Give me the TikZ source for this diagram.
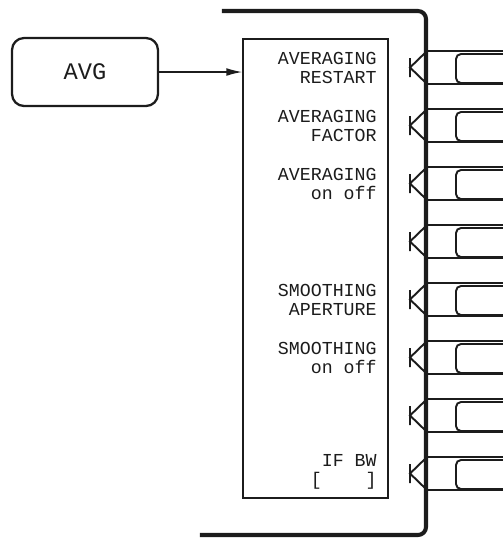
\documentclass[tikz,border=0pt]{standalone}
\usepackage{fontspec}
\setmonofont{Liberation Mono}
\usepackage{tikz}
\usetikzlibrary{arrows.meta,calc,positioning}
\definecolor{ink}{HTML}{1C1C1C}

\begin{document}
\begin{tikzpicture}[x=0.02cm,y=-0.02cm,>={Latex[length=9pt,width=4.4pt]},
  keyline/.style={line width=1.1pt,draw=ink},
  keyface/.style={line width=1.1pt,draw=ink,rounded corners=0.1cm},
  keytext/.style={anchor=east,inner sep=0pt,align=right,text=ink,font=\ttfamily\fontsize{10.4}{10.6}\selectfont}]
\useasboundingbox (0,0) rectangle (503,539);
\node[draw=ink,line width=1.3pt,rounded corners=0.24cm,minimum width=2.92cm,minimum height=1.36cm,inner sep=0pt,text=ink,font=\ttfamily\fontsize{13.5}{13.5}\selectfont] (avg) at (85,72) {AVG};
\node[draw=ink,line width=0.8pt,minimum width=2.9cm,minimum height=9.18cm,inner sep=0pt] (menu) at (315.5,268.5) {};
\draw[->,ink,line width=0.8pt] (avg.east) -- (avg.east -| menu.west);
\draw[ink,line width=2.3pt,rounded corners=0.16cm] (222,11) -- (426,11) -- (426,535) -- (200,535);
\draw[keyline] (426,51) -- (503,51) (426,84) -- (503,84) (426,52) -- (410,67.5) -- (426,83) (410,58) -- (410,77);
\draw[keyface] (503,54) -- (456,54) -- (456,83) -- (503,83);
\draw[keyline] (426,109) -- (503,109) (426,142) -- (503,142) (426,110) -- (410,125.5) -- (426,141) (410,116) -- (410,135);
\draw[keyface] (503,112) -- (456,112) -- (456,141) -- (503,141);
\draw[keyline] (426,167) -- (503,167) (426,200) -- (503,200) (426,168) -- (410,183.5) -- (426,199) (410,174) -- (410,193);
\draw[keyface] (503,170) -- (456,170) -- (456,199) -- (503,199);
\draw[keyline] (426,225) -- (503,225) (426,258) -- (503,258) (426,226) -- (410,241.5) -- (426,257) (410,232) -- (410,251);
\draw[keyface] (503,228) -- (456,228) -- (456,257) -- (503,257);
\draw[keyline] (426,283) -- (503,283) (426,316) -- (503,316) (426,284) -- (410,299.5) -- (426,315) (410,290) -- (410,309);
\draw[keyface] (503,286) -- (456,286) -- (456,315) -- (503,315);
\draw[keyline] (426,341) -- (503,341) (426,374) -- (503,374) (426,342) -- (410,357.5) -- (426,373) (410,348) -- (410,367);
\draw[keyface] (503,344) -- (456,344) -- (456,373) -- (503,373);
\draw[keyline] (426,399) -- (503,399) (426,432) -- (503,432) (426,400) -- (410,415.5) -- (426,431) (410,406) -- (410,425);
\draw[keyface] (503,402) -- (456,402) -- (456,431) -- (503,431);
\draw[keyline] (426,457) -- (503,457) (426,490) -- (503,490) (426,458) -- (410,473.5) -- (426,489) (410,464) -- (410,483);
\draw[keyface] (503,460) -- (456,460) -- (456,489) -- (503,489);
\node[keytext] (restart) at (377,68) {AVERAGING\\RESTART};
\node[keytext] (factor) at (377,126) {AVERAGING\\FACTOR};
\node[keytext] (avgonoff) at (377,184) {AVERAGING\\on off};
\node[keytext] (aperture) at (377,300) {SMOOTHING\\APERTURE};
\node[keytext] (smoothonoff) at (377,358) {SMOOTHING\\on off};
\node[keytext] (ifbw) at (377,472) {IF BW\\{}[\ \ \ \ ]};
\end{tikzpicture}
\end{document}
